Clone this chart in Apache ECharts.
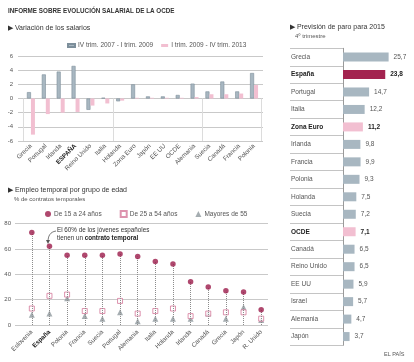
<!DOCTYPE html>
<html><head><meta charset="utf-8">
<script src="https://cdn.jsdelivr.net/npm/echarts@6/dist/echarts.min.js"></script>
<style>html,body{margin:0;padding:0;background:#fff}#c{width:414px;height:362px}</style>
</head><body><div id="c"></div>
<script>
// ---- Data: Variación de los salarios ----
const wageCategories = ['Grecia','Portugal','Irlanda','ESPAÑA','Reino Unido','Italia','Holanda','Zona Euro','Japón','EE UU','OCDE','Alemania','Suecia','Canadá','Francia','Polonia'];
const wageSeriesNames = ['IV trim. 2007 - I trim. 2009','I trim. 2009 - IV trim. 2013'];
const wage0709 = [0.9, 3.4, 3.8, 4.6, -1.6, 0.1, -0.4, 2.0, 0.3, 0.3, 0.5, 2.1, 1.0, 2.4, 1.0, 3.6];
const wage0913 = [-5.1, -2.2, -2.0, -1.9, -1.0, -0.7, -0.3, 0.1, 0.1, 0.1, 0.1, 0.2, 0.6, 0.6, 0.7, 1.9];
const wageTicks = [-6, -4, -2, 0, 2, 4, 6];

// ---- Data: Previsión de paro para 2015 ----
const unempCategories = ['Grecia','España','Portugal','Italia','Zona Euro','Irlanda','Francia','Polonia','Holanda','Suecia','OCDE','Canadá','Reino Unido','EE UU','Israel','Alemania','Japón'];
const unempValues = [25.7, 23.8, 14.7, 12.2, 11.2, 9.8, 9.9, 9.3, 7.5, 7.2, 7.1, 6.5, 6.5, 5.9, 5.7, 4.7, 3.7];
const unempHighlight = ['España'];
const unempAggregates = ['Zona Euro','OCDE'];

// ---- Data: Empleo temporal por grupo de edad ----
const tempCategories = ['Eslovenia','España','Polonia','Francia','Suecia','Portugal','Alemania','Italia','Holanda','Irlanda','Canadá','Grecia','Japón','R. Unido'];
const tempSeriesNames = ['De 15 a 24 años','De 25 a 54 años','Mayores de 55'];
const temp15to24 = [73, 62, 55, 55, 55, 56, 54, 50, 48, 34, 30, 27, 26, 12];
const temp25to54 = [13, 23, 24, 11, 11, 19, 9, 11, 13, 7, 9, 10, 10, 5];
const temp55plus = [8, 9, 21, 7, 5, 10, 3, 5, 5, 5, 9, 5, 14, 4];
const tempTicks = [0, 20, 40, 60, 80];

const FONT = '"Liberation Sans", Arial, sans-serif';
const GRAY = '#a8b7c1', PINK = '#f2bfd1', WINE = '#a3234f';
const txt = '#555';

const chart = echarts.init(document.getElementById('c'), null, {renderer:'canvas'});

function t(x, y, text, size, opts) {
  return Object.assign({type:'text', left:x, top:y, style:Object.assign({text:text, fontSize:size, fontFamily:FONT, fill:'#333'}, opts||{})});
}

const option = {
  animation: false,
  textStyle: {fontFamily: FONT},
  grid: [
    {left:23.5, width:238, top:56, height:85},          // 0 wage bars
    {left:18, width:245, top:56, height:85},            // 1 wage gridlines
    {left:23.5, width:238, top:98.5, height:42.5},      // 2 wage vertical lines below zero
    {left:23, width:247, top:223.5, height:101.5},      // 3 temp points
    {left:15, width:253, top:223.5, height:101.5},      // 4 temp gridlines
    {left:343, right:0, top:48.3, height:297},          // 5 unemployment bars
    {left:290, width:53, top:48.3, height:297}          // 6 unemployment row separators
  ],
  xAxis: [
    {gridIndex:0, type:'category', data:wageCategories, axisLine:{show:false}, axisTick:{show:false},
     axisLabel:{interval:0, rotate:45, fontSize:6.3, color:txt, margin:4,
       formatter:v => v==='ESPAÑA' ? '{b|'+v+'}' : v, rich:{b:{fontWeight:'bold', color:'#222', fontSize:6.3}}}},
    {gridIndex:1, type:'value', show:false, min:0, max:1},
    {gridIndex:2, type:'category', data:wageCategories, axisLine:{show:false}, axisTick:{show:false}, axisLabel:{show:false},
     splitLine:{show:true, lineStyle:{color:'#dcdcdc', width:1}}},
    {gridIndex:3, type:'category', data:tempCategories, axisLine:{show:false}, axisTick:{show:false},
     axisLabel:{interval:0, rotate:45, fontSize:6.3, color:txt, margin:6,
       formatter:v => v==='España' ? '{b|'+v+'}' : v, rich:{b:{fontWeight:'bold', color:'#222', fontSize:6.3}}}},
    {gridIndex:4, type:'value', show:false, min:0, max:1},
    {gridIndex:5, type:'value', show:false, min:0, max:40},
    {gridIndex:6, type:'value', show:false, min:0, max:1}
  ],
  yAxis: [
    {gridIndex:0, type:'value', min:wageTicks[0], max:wageTicks[wageTicks.length-1], interval:2, show:false},
    {gridIndex:1, type:'value', min:wageTicks[0], max:wageTicks[wageTicks.length-1], interval:2,
     axisLine:{show:false}, axisTick:{show:false}, axisLabel:{fontSize:6, color:txt, margin:5},
     splitLine:{lineStyle:{color:'#c9c9c9', width:1}}},
    {gridIndex:2, type:'value', show:false, min:0, max:1},
    {gridIndex:3, type:'value', min:tempTicks[0], max:tempTicks[tempTicks.length-1], interval:20, show:false},
    {gridIndex:4, type:'value', min:tempTicks[0], max:tempTicks[tempTicks.length-1], interval:20,
     axisLine:{show:false}, axisTick:{show:false}, axisLabel:{fontSize:6, color:txt, margin:4},
     splitLine:{lineStyle:{color:'#c9c9c9', width:1}}},
    {gridIndex:5, type:'category', data:unempCategories, inverse:true,
     axisLine:{show:true, lineStyle:{color:'#9a9a9a', width:1}}, axisTick:{show:false},
     axisLabel:{align:'left', margin:52, fontSize:6.5, color:txt,
       formatter:v => (unempHighlight.includes(v)||unempAggregates.includes(v)) ? '{b|'+v+'}' : v,
       rich:{b:{fontWeight:'bold', color:'#222', fontSize:6.5}}}},
    {gridIndex:6, type:'category', data:unempCategories, inverse:true,
     axisLine:{show:false}, axisTick:{show:false}, axisLabel:{show:false},
     splitLine:{show:true, lineStyle:{color:'#c4c4c4', width:1}}}
  ],
  legend: [
    {data:wageSeriesNames, left:62, top:37, icon:'rect', itemWidth:7, itemHeight:3, itemGap:8,
     textStyle:{fontSize:6.5, color:txt, fontFamily:FONT, padding:[0,0,0,-2]}},
    {data:tempSeriesNames, left:40, top:205, itemWidth:6, itemHeight:6, itemGap:18,
     textStyle:{fontSize:6.5, color:txt, fontFamily:FONT, padding:[0,0,0,-2]}}
  ],
  series: [
    {name:wageSeriesNames[0], type:'bar', xAxisIndex:0, yAxisIndex:0, data:wage0709, barWidth:4, barGap:'0%',
     itemStyle:{color:GRAY, borderColor:'#7d8f9b', borderWidth:0.6}},
    {name:wageSeriesNames[1], type:'bar', xAxisIndex:0, yAxisIndex:0, data:wage0913, barWidth:4, barGap:'0%',
     itemStyle:{color:PINK}},
    {name:'paro', type:'bar', xAxisIndex:5, yAxisIndex:5, barWidth:9,
     data: unempValues.map((v,i) => {
       const n = unempCategories[i];
       const c = unempHighlight.includes(n) ? WINE : (unempAggregates.includes(n) ? PINK : GRAY);
       const bold = unempHighlight.includes(n) || unempAggregates.includes(n);
       return {value:v, itemStyle:{color:c}, label:{fontWeight: bold ? 'bold' : 'normal', color: bold ? '#222' : txt}};
     }),
     label:{show:true, position:'right', distance:5, fontSize:6.5, fontFamily:FONT,
       formatter:p => String(p.value).replace('.', ',')}},
    {name:tempSeriesNames[2], type:'scatter', xAxisIndex:3, yAxisIndex:3, data:temp55plus,
     symbol:'triangle', symbolSize:6, itemStyle:{color:'#8e989e'}},
    {name:tempSeriesNames[1], type:'scatter', xAxisIndex:3, yAxisIndex:3, data:temp25to54,
     symbol:'rect', symbolSize:5, itemStyle:{color:'#fff', borderColor:'#d4789a', borderWidth:1}},
    {name:tempSeriesNames[0], type:'scatter', xAxisIndex:3, yAxisIndex:3, data:temp15to24,
     symbol:'circle', symbolSize:5.5, itemStyle:{color:'#9b1a4a'}, z:5,
     markLine:{silent:true, symbol:'none', label:{show:false}, animation:false,
       lineStyle:{type:'dotted', color:'#8c8c8c', width:1},
       data: temp15to24.map((v,i) => [{coord:[i,0]},{coord:[i,v]}])}}
  ],
  graphic: [
    t(8, 8, 'INFORME SOBRE EVOLUCIÓN SALARIAL DE LA OCDE', 6.3, {fontWeight:'bold'}),
    t(8, 25, '▶ Variación de los salarios', 7),
    t(290, 24, '▶ Previsión de paro para 2015', 7),
    t(295, 33, '4º trimestre', 6, {fill:txt}),
    t(8, 187, '▶ Empleo temporal por grupo de edad', 7),
    t(14, 196, '% de contratos temporales', 6, {fill:txt}),
    {type:'text', left:57, top:226, style:{
      text:'El 60% de los jóvenes españoles\ntienen un {b|contrato temporal}', fontSize:6.3, fontFamily:FONT, fill:'#333', lineHeight:8,
      rich:{b:{fontWeight:'bold', fontSize:6.3, fill:'#222', fontFamily:FONT}}}},
    {type:'bezierCurve', shape:{x1:56, y1:231, cpx1:50, cpy1:232, cpx2:48, cpy2:236, x2:48, y2:242},
     style:{stroke:'#555', lineWidth:0.8, fill:null}},
    {type:'polygon', shape:{points:[[46,240],[50,240],[48,244]]}, style:{fill:'#555'}},
    t(384, 351, 'EL PAÍS', 5.5, {fill:txt})
  ]
};
chart.setOption(option);
</script>
</body></html>
